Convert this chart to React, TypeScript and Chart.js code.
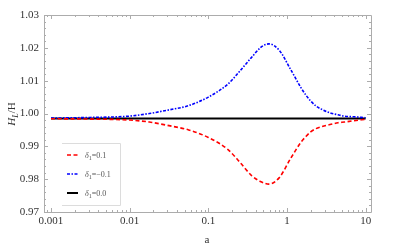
import React, { useEffect, useRef } from "react";
import { Chart, registerables } from "chart.js";

Chart.register(...registerables);

const aValues = [0.001, 0.00316, 0.01, 0.0178, 0.0316, 0.0562, 0.1, 0.178, 0.251, 0.355, 0.468, 0.589, 0.794, 1.12, 1.51, 1.74, 2.0, 2.34, 2.69, 3.63, 4.47, 5.37, 7.08, 10];
const bluePos = [0.9986, 0.9988, 0.9992, 1.0, 1.0011, 1.0024, 1.005, 1.009, 1.0129, 1.0171, 1.0202, 1.0212, 1.0193, 1.0133, 1.0078, 1.0056, 1.0038, 1.0023, 1.0014, 1.0001, 0.9996, 0.9992, 0.9990, 0.9987];
const redNeg = [0.9984, 0.9983, 0.998, 0.9974, 0.9963, 0.995, 0.9927, 0.989, 0.9852, 0.9811, 0.9792, 0.9785, 0.9804, 0.9864, 0.9913, 0.9930, 0.9944, 0.9954, 0.9959, 0.9967, 0.9972, 0.9974, 0.9978, 0.9982];
const blackZero = aValues.map(() => 0.9985);

const seriesLabels = ["0.1", "\u22120.1", "0.0"];
const xTicks = [0.001, 0.01, 0.1, 1, 10];
const yTicks = [0.97, 0.98, 0.99, 1.0, 1.01, 1.02, 1.03];
const yMinorStep = 0.002;

const FONT = "'Liberation Serif', 'DejaVu Serif', serif";

function toPts(ys: number[]) {
  return aValues.map((a, i) => ({ x: a, y: ys[i] }));
}

const framePlugin = {
  id: "framePlugin",
  afterDraw(chart: any) {
    const { ctx, chartArea } = chart;
    const { left, right, top, bottom } = chartArea;
    const xs = chart.scales.x;
    const ys = chart.scales.y;
    ctx.save();
    ctx.strokeStyle = "#acacac";
    ctx.lineWidth = 1;
    ctx.beginPath();
    ctx.rect(Math.round(left) + 0.5, Math.round(top) + 0.5, Math.round(right - left), Math.round(bottom - top));
    ctx.stroke();

    const tick = (x1: number, y1: number, x2: number, y2: number) => {
      ctx.beginPath();
      ctx.moveTo(x1, y1);
      ctx.lineTo(x2, y2);
      ctx.stroke();
    };
    const yMin = yTicks[0];
    const yMax = yTicks[yTicks.length - 1];
    const nMinor = Math.round((yMax - yMin) / yMinorStep);
    for (let i = 0; i <= nMinor; i++) {
      const v = yMin + i * yMinorStep;
      const py = Math.round(ys.getPixelForValue(v)) + 0.5;
      const major = i % 5 === 0;
      const len = major ? 4 : 2;
      tick(left, py, left + len, py);
      tick(right, py, right - len, py);
    }
    for (let k = -4; k <= 1; k++) {
      for (let m = 1; m <= 9; m++) {
        const v = m * Math.pow(10, k);
        if (v < xs.min || v > xs.max) continue;
        const px = Math.round(xs.getPixelForValue(v)) + 0.5;
        const len = m === 1 ? 4 : 2;
        tick(px, bottom, px, bottom - len);
        tick(px, top, px, top + len);
      }
    }

    ctx.strokeStyle = "#dcdcdc";
    ctx.beginPath();
    ctx.moveTo(62, 143.5);
    ctx.lineTo(120.5, 143.5);
    ctx.lineTo(120.5, 205.5);
    ctx.lineTo(62, 205.5);
    ctx.stroke();

    const dsets = chart.data.datasets;
    const rows = [155, 174, 193];
    dsets.forEach((ds: any, i: number) => {
      const y = rows[i];
      ctx.strokeStyle = ds.borderColor;
      ctx.lineWidth = ds.borderWidth;
      ctx.setLineDash(ds.borderDash || []);
      ctx.beginPath();
      ctx.moveTo(67, y);
      ctx.lineTo(78, y);
      ctx.stroke();
      ctx.setLineDash([]);
      ctx.fillStyle = "#555";
      ctx.textBaseline = "alphabetic";
      ctx.textAlign = "left";
      let x = 85;
      ctx.font = "italic 8px " + FONT;
      ctx.fillText("\u03b4", x, y + 3);
      x += ctx.measureText("\u03b4").width;
      ctx.font = "6px " + FONT;
      ctx.fillText("1", x, y + 5);
      x += ctx.measureText("1").width;
      ctx.font = "8px " + FONT;
      ctx.fillText("=" + seriesLabels[i], x, y + 3);
    });

    ctx.fillStyle = "#333";
    ctx.save();
    ctx.translate(15, 114);
    ctx.rotate(-Math.PI / 2);
    ctx.font = "italic 11px " + FONT;
    const wH = ctx.measureText("H").width;
    ctx.font = "italic 8px " + FONT;
    const wL = ctx.measureText("L").width;
    ctx.font = "11px " + FONT;
    const wR = ctx.measureText("/H").width;
    let tx = -(wH + wL + wR) / 2;
    ctx.textBaseline = "alphabetic";
    ctx.textAlign = "left";
    ctx.font = "italic 11px " + FONT;
    ctx.fillText("H", tx, 0);
    tx += wH;
    ctx.font = "italic 8px " + FONT;
    ctx.fillText("L", tx, 2.5);
    tx += wL;
    ctx.font = "11px " + FONT;
    ctx.fillText("/H", tx, 0);
    ctx.restore();

    ctx.font = "11px " + FONT;
    ctx.textAlign = "center";
    ctx.textBaseline = "middle";
    ctx.fillText("a", 207, 240);
    ctx.restore();
  },
};

export default function App() {
  const ref = useRef<HTMLCanvasElement | null>(null);
  useEffect(() => {
    if (!ref.current) return;
    const chart = new Chart(ref.current, {
      type: "line",
      data: {
        datasets: [
          {
            label: "\u03b41=0.1",
            data: toPts(redNeg),
            borderColor: "#ff0000",
            borderWidth: 1.6,
            borderDash: [4, 2.5],
            pointRadius: 0,
            cubicInterpolationMode: "monotone",
            fill: false,
          },
          {
            label: "\u03b41=-0.1",
            data: toPts(bluePos),
            borderColor: "#0000ff",
            borderWidth: 1.6,
            borderDash: [3, 1.5, 1.5, 1.5],
            pointRadius: 0,
            cubicInterpolationMode: "monotone",
            fill: false,
          },
          {
            label: "\u03b41=0.0",
            data: toPts(blackZero),
            borderColor: "#000000",
            borderWidth: 2,
            pointRadius: 0,
            fill: false,
          },
        ],
      },
      options: {
        responsive: false,
        animation: false,
        layout: { padding: { left: 0, top: 15, right: 42, bottom: 0 } },
        plugins: { legend: { display: false }, tooltip: { enabled: false } },
        scales: {
          x: {
            type: "logarithmic",
            min: 0.000815,
            max: 11.7,
            grid: { display: false, drawTicks: false },
            border: { display: false },
            afterBuildTicks: (s: any) => {
              s.ticks = xTicks.map((v) => ({ value: v }));
            },
            afterFit: (s: any) => {
              s.height = 37;
            },
            ticks: {
              autoSkip: false,
              maxRotation: 0,
              padding: 3,
              color: "#333",
              font: { family: FONT, size: 11 },
              callback: (v: any) => String(v),
            },
          },
          y: {
            type: "linear",
            min: 0.97,
            max: 1.03,
            grid: { display: false, drawTicks: false },
            border: { display: false },
            afterBuildTicks: (s: any) => {
              s.ticks = yTicks.map((v) => ({ value: v }));
            },
            afterFit: (s: any) => {
              s.width = 44;
            },
            ticks: {
              padding: 5,
              color: "#333",
              font: { family: FONT, size: 11 },
              callback: (v: any) => Number(v).toFixed(2),
            },
          },
        },
      },
      plugins: [framePlugin],
    } as any);
    return () => chart.destroy();
  }, []);
  return (
    <div style={{ position: "absolute", left: 0, top: 0, width: 413, height: 249, background: "#fff" }}>
      <canvas ref={ref} width={413} height={249} />
    </div>
  );
}
